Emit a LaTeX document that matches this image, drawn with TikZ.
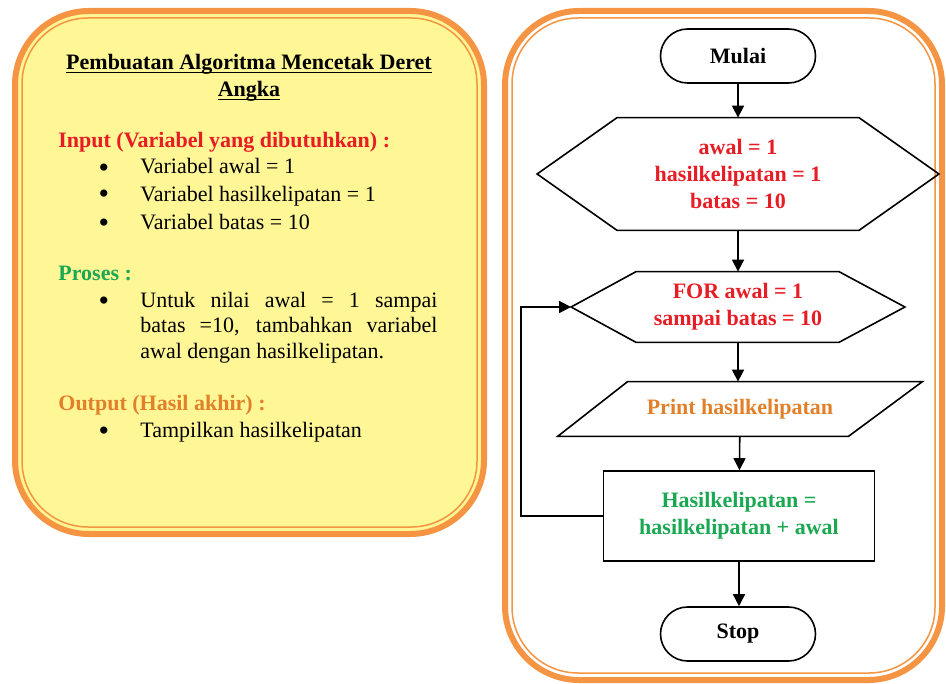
\documentclass[tikz,border=0pt]{standalone}
\usepackage{fontspec}
\setmainfont{Liberation Serif}
\usetikzlibrary{arrows.meta}

\definecolor{frameorange}{RGB}{245,148,66}
\definecolor{noteyellow}{RGB}{255,246,150}
\definecolor{txtred}{RGB}{232,28,36}
\definecolor{txtgreen}{RGB}{26,168,82}
\definecolor{txtorange}{RGB}{226,128,42}

% underline that sits just under the baseline
\newcommand{\undertext}[1]{\setbox0\hbox{#1}\rlap{\rule[-1.6pt]{\wd0}{0.6pt}}\box0}

\tikzset{
    panel/.style={draw=frameorange,line width=3pt,rounded corners=37pt},
    panelin/.style={draw=frameorange,line width=0.75pt,rounded corners=33pt},
    flow/.style={line width=0.8pt},
    arr/.style={flow,-{Triangle[length=6pt,width=6pt]}},
    body/.style={font=\fontsize{11}{13.5}\selectfont,inner sep=0pt},
    head/.style={body,font=\fontsize{11}{13.5}\selectfont\bfseries,anchor=base west},
    bullet/.style={inner sep=0pt,anchor=base,font=\fontsize{15}{15}\selectfont,
        text height=6pt,text depth=0pt},
    step text/.style={inner sep=0pt,align=center,
        font=\fontsize{11}{13.4}\selectfont\bfseries},
    term/.style={step text,draw,flow,rounded corners=13.5pt,
        minimum width=77.5pt,minimum height=27pt},
}

\begin{document}
\begin{tikzpicture}[x=0.5pt,y=-0.5pt]
	\useasboundingbox (0,0) rectangle (946,684);

	% the two framed panels
	\draw[panel,fill=noteyellow] (15,11) rectangle (484,534);
	\draw[panelin] (22,18) rectangle (477,527);
	\draw[panel,fill=white] (505,11) rectangle (942,680);
	\draw[panelin] (512,18) rectangle (935,673);

	% left panel: the written algorithm
	\node[head,anchor=base] (title) at (249,70) {\undertext{Pembuatan Algoritma Mencetak Deret}};
	\node[head,anchor=base] (title2) at (249,97) {\undertext{Angka}};

	\node[head,txtred] (input) at (58,148) {Input (Variabel yang dibutuhkan) :};
	\foreach \y/\t in {174/Variabel awal = 1,
	                   201/Variabel hasilkelipatan = 1,
	                   229/Variabel batas = 10}{
		\node[bullet] (dot\y) at (104,\y+3) {\textbullet};
		\node[body,anchor=base west] (var\y) at (140,\y) {\t};
	}

	\node[head,txtgreen] (proses) at (58,280) {Proses :};
	\node[bullet] (dot307) at (104,310) {\textbullet};
	\node[body,anchor=base west,text width=148.5pt,align=justify,
	      font=\fontsize{11}{12.8}\selectfont] (step) at (140,307)
		{Untuk nilai awal = 1 sampai\linebreak
		 batas =10, tambahkan variabel\linebreak
		 awal dengan hasilkelipatan.};

	\node[head,txtorange] (output) at (58,410) {Output (Hasil akhir) :};
	\node[bullet] (dot437) at (104,440) {\textbullet};
	\node[body,anchor=base west] (show) at (140,437) {Tampilkan hasilkelipatan};

	% right panel: flowchart
	\node[term] (mulai) at (738,56) {Mulai};

	\node[step text,txtred,minimum width=200.5pt,minimum height=56pt] (init) at (738,174)
		{awal = 1\\hasilkelipatan = 1\\batas = 10};
	\draw[flow] (init.west) -- ([xshift=40pt]init.north west) -- ([xshift=-40pt]init.north east)
		-- (init.east) -- ([xshift=-40pt]init.south east) -- ([xshift=40pt]init.south west) -- cycle;

	\node[step text,txtred,minimum width=166.5pt,minimum height=35pt] (loop) at (738,307)
		{FOR awal = 1\\sampai batas = 10};
	\draw[flow] (loop.west) -- ([xshift=32.5pt]loop.north west) -- ([xshift=-33pt]loop.north east)
		-- (loop.east) -- ([xshift=-33pt]loop.south east) -- ([xshift=32.5pt]loop.south west) -- cycle;

	\node[step text,txtorange,minimum width=182pt,minimum height=27pt] (print) at (740,409)
		{Print hasilkelipatan};
	\draw[flow] ([xshift=35pt]print.north west) -- (print.north east)
		-- ([xshift=-37pt]print.south east) -- (print.south west) -- cycle;

	\node[step text,txtgreen,draw=black,flow,minimum width=135.5pt,minimum height=45pt] (update) at (739,516)
		{Hasilkelipatan =\\hasilkelipatan + awal};

	\node[term] (stop) at (738,634) {Stop};

	\draw[arr] (mulai) -- (init);
	\draw[arr] (init) -- (loop);
	\draw[arr] (loop) -- (print.north -| loop);
	\draw[arr] (print) -- (update);
	\draw[arr] (update) -- (stop.north -| update);
	\draw[arr] (update.west) -- ++(-82,0) |- (loop.west);
\end{tikzpicture}
\end{document}
